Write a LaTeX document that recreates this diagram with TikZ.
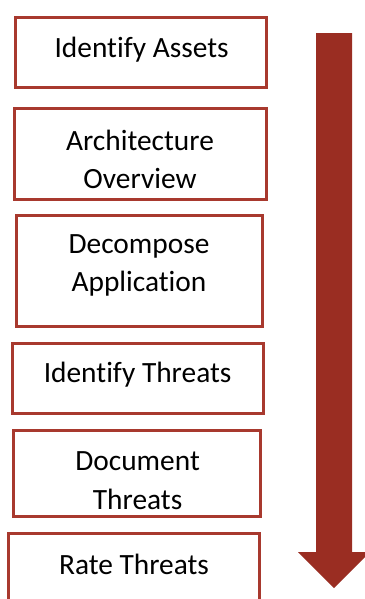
\documentclass[tikz,border=0pt]{standalone}
\usepackage{fontspec}
\setmainfont{Carlito}[Ligatures=NoCommon]
\usepackage{tikz}
\definecolor{myboxcolor}{HTML}{A8392E}
\definecolor{myarrowcolor}{HTML}{9A2D22}
\tikzset{stepbox/.style={draw=myboxcolor, line width=2pt, fill=white, rectangle, minimum width=6.28cm, minimum height=1.755cm},
steptext/.style={align=center, inner sep=0pt, font=\fontsize{20.9pt}{27.4pt}\selectfont}}
\begin{document}
\begin{tikzpicture}%
\clip (0, 0) rectangle (9.125, -14.975);%
\node[stepbox] (assets) at (3.525, -1.3125) {};%
\node[stepbox, minimum width=6.305cm, minimum height=2.28cm] (arch) at (3.5125, -3.85) {};%
\node[stepbox, minimum width=6.155cm, minimum height=2.78cm] (decomp) at (3.4875, -6.775) {};%
\node[stepbox] (threats) at (3.45, -9.4625) {};%
\node[stepbox, minimum width=6.18cm, minimum height=2.155cm] (docu) at (3.425, -11.8375) {};%
\node[stepbox] (rate) at (3.35, -14.2125) {};%
\node[steptext] (assetsT) at (3.54, -1.25) {Identify Assets};%
\node[steptext] (archT) at (3.5, -3.98) {Architecture\\Overview};%
\node[steptext] (decompT) at (3.475, -6.64) {Decompose\\Application};%
\node[steptext] (threatsT) at (3.44, -9.375) {Identify Threats};%
\node[steptext] (docuT) at (3.44, -12.015) {Document\\Threats};%
\node[steptext] (rateT) at (3.35, -14.1) {Rate Threats};%
\fill[myarrowcolor] (7.9, -0.825) -- (8.8, -0.825) -- (8.8, -13.8) -- (9.25, -13.8) -- (8.35, -14.7) -- (7.45, -13.8) -- (7.9, -13.8) -- cycle;%
\end{tikzpicture}
\end{document}
